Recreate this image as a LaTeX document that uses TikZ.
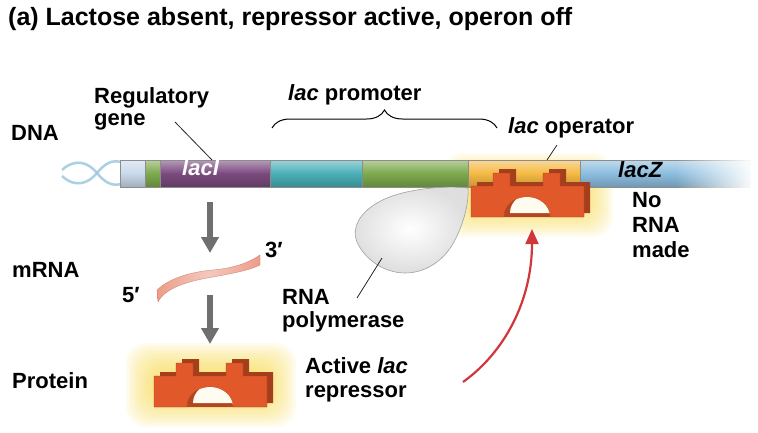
\documentclass[tikz,border=0pt]{standalone}
\usepackage{fontspec}
\setmainfont{Liberation Sans}
\usetikzlibrary{positioning, arrows.meta, calc, decorations.pathreplacing, fadings}

\definecolor{helix}{HTML}{9CC8DE}
\definecolor{capblue}{HTML}{C9D9EA}
\definecolor{lacgreen}{HTML}{7CA94D}
\definecolor{lacpurple}{HTML}{7A4A7E}
\definecolor{lacteal}{HTML}{4AAFB7}
\definecolor{lacop}{HTML}{F5B944}
\definecolor{laczblue}{HTML}{8CBDDF}
\definecolor{repcol}{HTML}{E1592B}
\definecolor{repdark}{HTML}{A43E1C}
\definecolor{glowc}{HTML}{F7D94F}
\definecolor{mrnacol}{HTML}{EE9C88}
\definecolor{polyedge}{HTML}{A0A0A0}
\definecolor{redarr}{HTML}{D2363D}
\definecolor{grayarr}{HTML}{6F6F6F}

\tikzfading[name=faderight, left color=transparent!100, right color=transparent!0]

\newcommand\repbody{(-56,0) -- (-56,-31) -- (-34,-31) -- (-34,-44) -- (-17,-44) -- (-17,-31)
  -- (16,-31) -- (16,-44) -- (33,-44) -- (33,-31) -- (57,-31) -- (57,0) -- (23,0)
  arc[start angle=0, end angle=-180, x radius=23, y radius=20] -- cycle}
\newcommand\reparch{(-23,0) arc[start angle=180, end angle=360, x radius=23, y radius=20] -- cycle}

\tikzset{
  repressor/.pic={
    \begin{scope}[shift={(6,-4)}]
      \fill[repdark] \repbody;
    \end{scope}
    \fill[repcol, draw=repdark, line width=0.4pt] \repbody;
    \begin{scope}
      \clip \reparch;
      \fill[repdark!75!repcol] \reparch;
      \begin{scope}[shift={(6,-4)}]
        \fill[glowc!8!white] \reparch;
      \end{scope}
    \end{scope}
  },
  glow/.pic={
    \foreach \i in {0,...,11}
      \fill[glowc, fill opacity=0.09, rounded corners=20pt]
        (-84+2.5*\i, -64+2.5*\i) rectangle (86-2.5*\i, 20-2.5*\i);
  }
}

\begin{document}
\begin{tikzpicture}[x=1pt, y=-1pt,
    seg/.style={rectangle, inner sep=0pt, outer sep=0pt, minimum height=27pt,
      draw=black!45, line width=0.4pt, anchor=west,
      top color=#1!55!white, bottom color=#1!80!black, middle color=#1},
    lbl/.style={font=\bfseries\fontsize{22}{24}\selectfont, inner sep=0pt, anchor=base west},
    multi/.style={font=\bfseries\fontsize{22}{#1}\selectfont, inner sep=0pt,
      anchor=north west, align=left},
    leader/.style={draw=black!85, line width=0.8pt},
    grayarrow/.style={draw=grayarr, line width=6.5pt, -{Triangle[length=16pt, width=17pt]}},
    redarrow/.style={draw=redarr, line width=2.2pt, -{Triangle[length=15pt, width=13pt]}}]
    \useasboundingbox (0,0) rectangle (758,432);

    \draw[helix, line width=2.5pt, opacity=0.85]
        (62,170) .. controls (75,158) and (88,162) .. (97,173) .. controls (106,184) and (113,186) .. (121,184);
    \draw[helix, line width=2.5pt, opacity=0.85]
        (62,176) .. controls (75,188) and (88,184) .. (97,173) .. controls (106,162) and (113,160) .. (121,162);

    \pic at (527,217) {glow};

    \node[seg=capblue, minimum width=25pt] (s0) at (120,173.5) {};
    \node[seg=lacgreen, minimum width=15pt, right=0pt of s0] (s1) {};
    \node[seg=lacpurple, minimum width=110pt, right=0pt of s1] (lacI) {};
    \node[seg=lacteal, minimum width=92pt, right=0pt of lacI] (p1) {};
    \node[seg=lacgreen, minimum width=106pt, right=0pt of p1] (p2) {};
    \node[seg=lacop, minimum width=112pt, right=0pt of p2] (op) {};
    \node[seg=laczblue, minimum width=170pt, right=0pt of op] (lacZ) {};
    \fill[white, path fading=faderight] ([xshift=-75pt, yshift=-2pt]lacZ.south east) rectangle ([xshift=4pt, yshift=2pt]lacZ.north east);

    \shade[inner color=white, outer color=black!13, draw=polyedge, line width=0.6pt]
        (468,188) .. controls (440,185) and (398,190) .. (377,203) .. controls (360,213) and (351,228) .. (357,242)
        .. controls (365,260) and (385,273) .. (405,273) .. controls (428,273) and (446,258) .. (455,240)
        .. controls (463,224) and (469,205) .. (468,188) -- cycle;

    \pic at (527,217) {repressor};
    \pic at (210,407) {glow};
    \pic at (210,407) {repressor};

    \shade[left color=mrnacol, right color=mrnacol, middle color=mrnacol!55!white, draw=mrnacol!80!black, line width=0.3pt]
        (157,290) .. controls (170,278) and (190,272) .. (213,270) .. controls (235,268) and (250,262) .. (260,255)
        -- (260,265) .. controls (250,270) and (235,273) .. (213,277) .. controls (188,281) and (165,288) .. (158,302) -- cycle;

    \node[lbl, font=\bfseries\fontsize{25}{28}\selectfont] (title) at (8,25) {(a) Lactose absent, repressor active, operon off};
    \node[lbl] (dna) at (11,140) {DNA};
    \node[multi=22] (reg) at (94,87) {Regulatory\\gene};
    \node[lbl] (prom) at (288,100) {\textit{lac} promoter};
    \node[lbl] (oper) at (508,133) {\textit{lac} operator};
    \node[lbl, text=white] (lacItxt) at (182,175) {\textit{lacI}};
    \node[lbl] (lacZtxt) at (618,177) {\textit{lacZ}};
    \node[multi=25] (norna) at (632,192) {No\\RNA\\made};
    \node[lbl] (mrna) at (12,277) {mRNA};
    \node[lbl] (five) at (122,302) {5′};
    \node[lbl] (three) at (265,257) {3′};
    \node[multi=23] (rnap) at (282,289) {RNA\\polymerase};
    \node[lbl] (protein) at (12,388) {Protein};
    \node[multi=24] (active) at (305,357) {Active \textit{lac}\\repressor};

    \coordinate (regpt) at (175,122);
    \coordinate (operpt) at (557,145);
    \coordinate (rnapt) at (357,298);
    \coordinate (polpt) at (382,258);
    \coordinate (mtop) at (210,253);
    \coordinate (mbot) at (210,295);
    \coordinate (ptop) at (210,344);
    \coordinate (rfrom) at (463,382);
    \coordinate (rto) at (532,229);

    \draw[leader] (regpt) -- ([xshift=52pt]lacI.north west);
    \draw[leader] (operpt) -- ([xshift=79pt]op.north west);
    \draw[leader] (rnapt) -- (polpt);
    \draw[decorate, decoration={brace, amplitude=18pt}, line width=1pt]
        ([shift={(2,-32)}]p1.north west) -- ([shift={(29,-32)}]p2.north east);

    \draw[grayarrow] ([shift={(-5,15)}]lacI.south) -- (mtop);
    \draw[grayarrow] (mbot) -- (ptop);
    \draw[redarrow] (rfrom) .. controls (505,352) and (532,300) .. (rto);
\end{tikzpicture}
\end{document}
